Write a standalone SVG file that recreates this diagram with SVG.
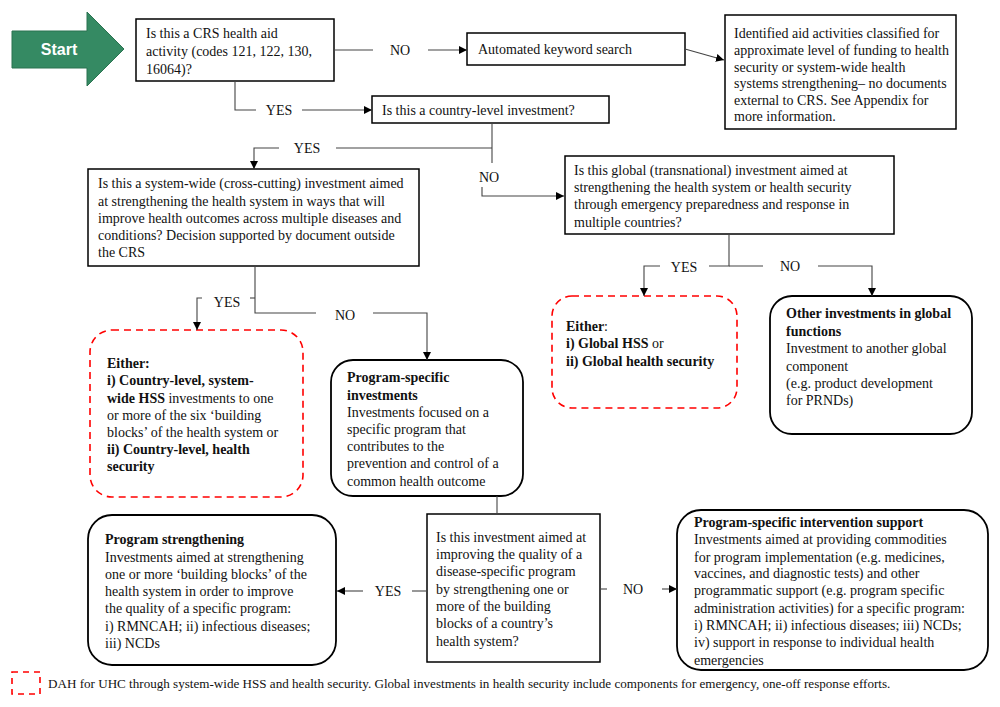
<svg xmlns="http://www.w3.org/2000/svg" width="1000" height="707" viewBox="0 0 1000 707">
<style>
text{font-family:"Liberation Serif","Times New Roman",serif;font-size:14px;fill:#111}
.b{font-weight:bold}
.box{fill:#fff;stroke:#000;stroke-width:1.5}
.rbox{fill:#fff;stroke:#000;stroke-width:1.8}
.dash{fill:#fff;stroke:#ff0000;stroke-width:1.6;stroke-dasharray:7 5}
.c{fill:none;stroke:#444;stroke-width:1.1}
.ca{fill:none;stroke:#444;stroke-width:1.1;marker-end:url(#ah)}
.lbl{text-anchor:middle}
.leg{font-size:13.1px}
</style>
<defs>
<marker id="ah" viewBox="0 0 10 10" refX="10" refY="5" markerWidth="8" markerHeight="8" markerUnits="userSpaceOnUse" orient="auto">
<path d="M0,0 L10,5 L0,10 z" fill="#000"/>
</marker>
</defs>

<g id="start">
<polygon points="12,31 87,31 87,12 124,49 87,86 87,68 12,68" fill="#358a63" stroke="#2a7350" stroke-width="1"/>
<text x="59" y="55" text-anchor="middle" style="font-family:'Liberation Sans',Arial,sans-serif;font-weight:bold;font-size:16px;fill:#fff">Start</text>
</g>

<g id="q-crs">
<rect class="box" x="136" y="19" width="198" height="62"/>
<text x="146" y="38">Is this a CRS health aid</text>
<text x="146" y="56">activity (codes 121, 122, 130,</text>
<text x="146" y="74">16064)?</text>
</g>

<g id="keyword">
<rect class="box" x="467" y="33" width="218" height="32"/>
<text x="478" y="54">Automated keyword search</text>
</g>

<g id="identified">
<rect class="box" x="725" y="15" width="231" height="114"/>
<text x="734" y="38">Identified aid activities classified for</text>
<text x="734" y="55">approximate level of funding to health</text>
<text x="734" y="71.5">security or system-wide health</text>
<text x="734" y="88">systems strengthening– no documents</text>
<text x="734" y="104.5">external to CRS. See Appendix for</text>
<text x="734" y="121">more information.</text>
</g>

<g id="q-country">
<rect class="box" x="372" y="96" width="237" height="27"/>
<text x="382" y="115">Is this a country-level investment?</text>
</g>

<g id="q-systemwide">
<rect class="box" x="88" y="169" width="331" height="97"/>
<text x="98" y="188">Is this a system-wide (cross-cutting) investment aimed</text>
<text x="98" y="206">at strengthening the health system in ways that will</text>
<text x="98" y="223">improve health outcomes across multiple diseases and</text>
<text x="98" y="240">conditions? Decision supported by document outside</text>
<text x="98" y="257">the CRS</text>
</g>

<g id="q-global">
<rect class="box" x="565" y="156" width="329" height="78"/>
<text x="574" y="175">Is this global (transnational) investment aimed at</text>
<text x="574" y="192">strengthening the health system or health security</text>
<text x="574" y="209">through emergency preparedness and response in</text>
<text x="574" y="227">multiple countries?</text>
</g>

<g id="global-either">
<rect class="dash" x="552" y="296" width="185" height="112" rx="20"/>
<text x="566" y="331"><tspan class="b">Either</tspan>:</text>
<text x="566" y="348"><tspan class="b">i) Global HSS</tspan> or</text>
<text x="566" y="366" class="b">ii) Global health security</text>
</g>

<g id="other-global">
<rect class="rbox" x="770" y="296" width="202" height="138" rx="22"/>
<text x="786" y="318" class="b">Other investments in global</text>
<text x="786" y="336" class="b">functions</text>
<text x="786" y="353">Investment to another global</text>
<text x="786" y="371">component</text>
<text x="786" y="388">(e.g. product development</text>
<text x="786" y="405">for PRNDs)</text>
</g>

<g id="country-either">
<rect class="dash" x="90" y="330" width="213" height="167" rx="22"/>
<text x="107" y="368" class="b">Either:</text>
<text x="107" y="385" class="b">i) Country-level, system-</text>
<text x="107" y="403"><tspan class="b">wide HSS</tspan> investments to one</text>
<text x="107" y="420">or more of the six ‘building</text>
<text x="107" y="437">blocks’ of the health system or</text>
<text x="107" y="454" class="b">ii) Country-level, health</text>
<text x="107" y="471" class="b">security</text>
</g>

<g id="program-specific">
<rect class="rbox" x="331" y="360" width="192" height="136" rx="22"/>
<text x="347" y="382" class="b">Program-specific</text>
<text x="347" y="400" class="b">investments</text>
<text x="347" y="417">Investments focused on a</text>
<text x="347" y="434">specific program that</text>
<text x="347" y="451">contributes to the</text>
<text x="347" y="468">prevention and control of a</text>
<text x="347" y="486">common health outcome</text>
</g>

<g id="q-quality">
<rect class="box" x="427" y="514" width="173" height="148"/>
<text x="436" y="542">Is this investment aimed at</text>
<text x="436" y="559">improving the quality of a</text>
<text x="436" y="576">disease-specific program</text>
<text x="436" y="594">by strengthening one or</text>
<text x="436" y="611">more of the building</text>
<text x="436" y="628">blocks of a country’s</text>
<text x="436" y="646">health system?</text>
</g>

<g id="program-strengthening">
<rect class="rbox" x="88" y="515" width="248" height="150" rx="24"/>
<text x="105" y="544" class="b">Program strengthening</text>
<text x="105" y="562">Investments aimed at strengthening</text>
<text x="105" y="579">one or more ‘building blocks’ of the</text>
<text x="105" y="596">health system in order to improve</text>
<text x="105" y="613">the quality of a specific program:</text>
<text x="105" y="631">i) RMNCAH; ii) infectious diseases;</text>
<text x="105" y="648">iii) NCDs</text>
</g>

<g id="intervention">
<rect class="rbox" x="677" y="510" width="311" height="160" rx="24"/>
<text x="694" y="527" class="b">Program-specific intervention support</text>
<text x="694" y="544">Investments aimed at providing commodities</text>
<text x="694" y="562">for program implementation (e.g. medicines,</text>
<text x="694" y="578">vaccines, and diagnostic tests) and other</text>
<text x="694" y="595">programmatic support (e.g. program specific</text>
<text x="694" y="613">administration activities) for a specific program:</text>
<text x="694" y="630">i) RMNCAH; ii) infectious diseases; iii) NCDs;</text>
<text x="694" y="647">iv) support in response to individual health</text>
<text x="694" y="665">emergencies</text>
</g>

<g id="connectors">
<path class="c" d="M334,50 H373"/>
<text class="lbl" x="400" y="55">NO</text>
<path class="ca" d="M428,50 H467"/>
<path class="ca" d="M685,49 L724,60"/>

<path class="c" d="M235,81 V110 H256"/>
<text class="lbl" x="279" y="115">YES</text>
<path class="ca" d="M302,110 H372"/>

<path class="c" d="M492,123 V163"/>
<path class="c" d="M492,148 H336"/>
<text class="lbl" x="307" y="153">YES</text>
<path class="ca" d="M279,148 H254 V169"/>
<text class="lbl" x="489" y="182">NO</text>
<path class="ca" d="M482,187 V196 H564"/>

<path class="c" d="M729,234 V266 H709"/>
<text class="lbl" x="684" y="272">YES</text>
<path class="ca" d="M660,266 H644 V296"/>
<path class="c" d="M729,266 H763"/>
<text class="lbl" x="790" y="271">NO</text>
<path class="ca" d="M818,266 H872 V296"/>

<path class="c" d="M255,266 V313 H316"/>
<text class="lbl" x="345" y="320">NO</text>
<path class="ca" d="M373,313 H427 V360"/>
<path class="c" d="M255,298 H250"/>
<text class="lbl" x="227" y="307">YES</text>
<path class="ca" d="M202,298 H197 V330"/>

<path class="c" d="M497,496 V514"/>

<path class="c" d="M427,591 H412"/>
<text class="lbl" x="388" y="596">YES</text>
<path class="ca" d="M363,591 H337"/>

<path class="c" d="M600,589 H607"/>
<text class="lbl" x="633" y="594">NO</text>
<path class="ca" d="M662,589 H677"/>
</g>

<g id="legend">
<rect x="12" y="672" width="28" height="22" fill="none" stroke="#ff0000" stroke-width="1.6" stroke-dasharray="6 5"/>
<text class="leg" x="48" y="688">DAH for UHC through system-wide HSS and health security. Global investments in health security include components for emergency, one-off response efforts.</text>
</g>
</svg>
